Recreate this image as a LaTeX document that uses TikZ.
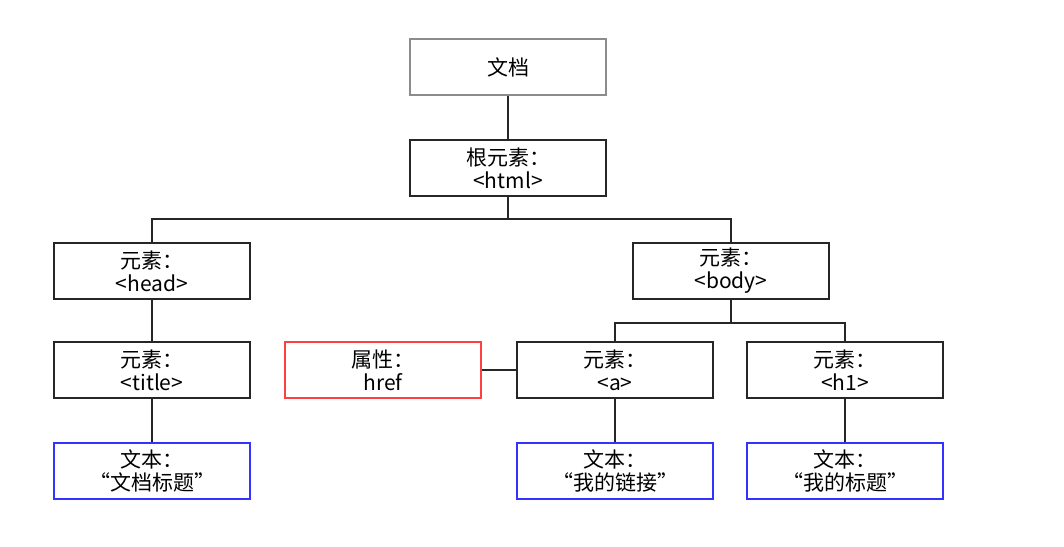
\documentclass[tikz,border=0pt]{standalone}
\usepackage{fontspec}
\setmainfont{Noto Sans CJK SC}
\usetikzlibrary{positioning}

\begin{document}
\begin{tikzpicture}[x=1pt,y=-1pt,
    box/.style={draw=black!85, line width=2pt, fill=white, minimum width=196pt, minimum height=56pt,
        inner sep=0pt, align=center, font=\fontsize{21}{23}\selectfont},
    docbox/.style={box, draw=black!45},
    attrbox/.style={box, draw=red!75},
    textbox/.style={box, draw=blue!80},
    link/.style={draw=black!85, line width=2pt}]
    \useasboundingbox (0,0) rectangle (1064,546);

    % 文档与根元素
    \node[docbox] (doc) at (508,67) {文档};
    \node[box] (html) at (508,168) {根元素：\\<html>};

    \node[box] (head) at (152,271) {元素：\\<head>};
    \node[box] (body) at (731,271) {元素：\\<body>};

    \node[box] (title) at (152,370) {元素：\\<title>};
    \node[attrbox] (href) at (383,370) {属性：\\href};
    \node[box] (a) at (615,370) {元素：\\<a>};
    \node[box] (h1) at (845,370) {元素：\\<h1>};

    \node[textbox] (ttitle) at (152,471) {文本：\\“文档标题”};
    \node[textbox] (ta) at (615,471) {文本：\\“我的链接”};
    \node[textbox] (th1) at (845,471) {文本：\\“我的标题”};

    % 连线
    \coordinate (hsplit) at (508,219);
    \coordinate (bsplit) at (731,323);
    \draw[link] (doc) -- (html);
    \draw[link] (html) -- (hsplit) -| (head);
    \draw[link] (hsplit) -| (body);
    \draw[link] (body) -- (bsplit) -| (a);
    \draw[link] (bsplit) -| (h1);
    \draw[link] (head) -- (title);
    \draw[link] (title) -- (ttitle);
    \draw[link] (href) -- (a);
    \draw[link] (a) -- (ta);
    \draw[link] (h1) -- (th1);

\end{tikzpicture}
\end{document}
